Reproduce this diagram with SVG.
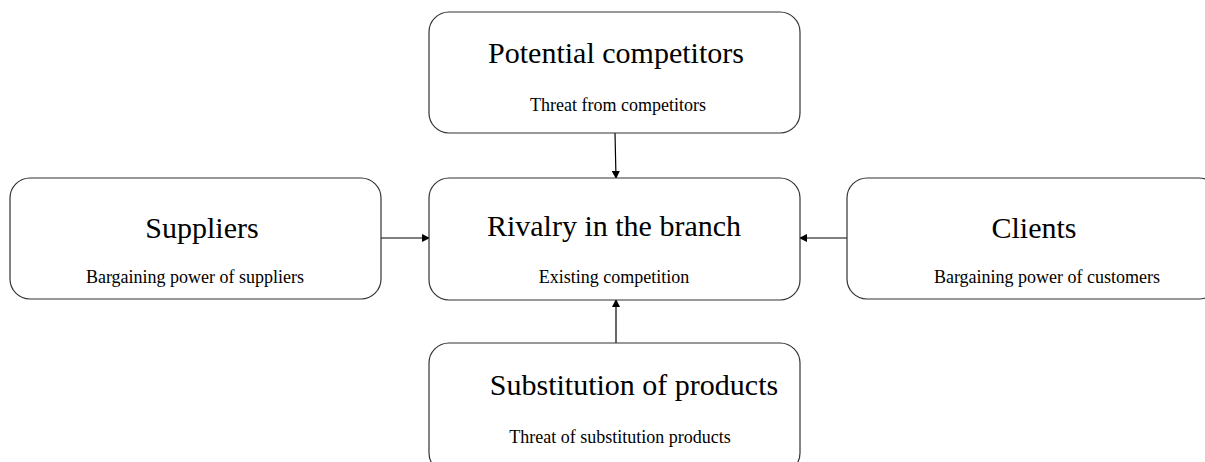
<svg xmlns="http://www.w3.org/2000/svg" width="1205" height="462" viewBox="0 0 1205 462">
<style>
.box{fill:#fff;stroke:#333;stroke-width:1.2}
.t{font-family:"Liberation Serif","Times New Roman",serif;fill:#000;text-anchor:middle}
.h{font-size:30px}
.s{font-size:18px}
.c{stroke:#000;stroke-width:1.2;fill:none;marker-end:url(#ah)}
</style>
<defs>
<marker id="ah" markerWidth="8" markerHeight="8" refX="7" refY="4" orient="auto" markerUnits="userSpaceOnUse">
<path d="M0,0 L8,4 L0,8 Z" fill="#000"/>
</marker>
</defs>
<rect width="1205" height="462" fill="#fff"/>
<g id="connectors">
<line class="c" x1="615" y1="133" x2="616" y2="178"/>
<line class="c" x1="381" y1="238" x2="429" y2="238"/>
<line class="c" x1="847" y1="238" x2="800" y2="238"/>
<line class="c" x1="616" y1="343" x2="616" y2="300"/>
</g>
<g id="potential">
<rect class="box" x="429" y="12" width="371" height="121" rx="20"/>
<text class="t h" x="616" y="63">Potential competitors</text>
<text class="t s" x="618" y="111">Threat from competitors</text>
</g>
<g id="rivalry">
<rect class="box" x="429" y="178" width="371" height="122" rx="20"/>
<text class="t h" x="614" y="236">Rivalry in the branch</text>
<text class="t s" x="614" y="283">Existing competition</text>
</g>
<g id="suppliers">
<rect class="box" x="10" y="178" width="371" height="121" rx="20"/>
<text class="t h" x="202" y="238">Suppliers</text>
<text class="t s" x="195" y="283">Bargaining power of suppliers</text>
</g>
<g id="clients">
<rect class="box" x="847" y="178" width="372" height="121" rx="20"/>
<text class="t h" x="1034" y="238">Clients</text>
<text class="t s" x="1047" y="283">Bargaining power of customers</text>
</g>
<g id="substitution">
<rect class="box" x="429" y="343" width="371" height="130" rx="20"/>
<text class="t h" x="634" y="395">Substitution of products</text>
<text class="t s" x="620" y="443">Threat of substitution products</text>
</g>
</svg>
